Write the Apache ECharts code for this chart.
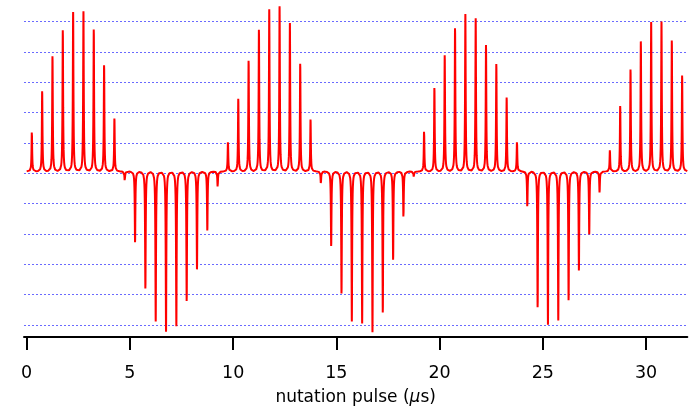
<!DOCTYPE html>
<html><head><meta charset="utf-8">
<script src="https://cdn.jsdelivr.net/npm/echarts@6/dist/echarts.min.js"></script>
<style>html,body{margin:0;padding:0;background:#fff}#c{width:695px;height:411px}</style>
</head><body><div id="c"></div>
<script>
// x tick labels (nutation pulse, µs)
const xTicks = [0, 5, 10, 15, 20, 25, 30];
// each spectrum occupies one 0.5 µs step of the nutation pulse
const stepWidth = 0.5;
// peak amplitudes (grid units), one per pulse step, in order
const posGroup1 = [1.36, 2.68, 3.85, 4.72, 5.26, 5.28, 4.75, 3.55, 1.77];
const negGroup1 = [-0.33, -2.36, -3.91, -4.94, -5.28, -5.10, -4.33, -3.27, -1.97, -0.52];
const posGroup2 = [1.02, 2.43, 3.70, 4.74, 5.35, 5.45, 4.90, 3.60, 1.74];
const negGroup2 = [-0.40, -2.49, -4.08, -4.94, -5.01, -5.30, -4.71, -2.95, -1.56, -0.18];
const posGroup3 = [1.38, 2.79, 3.89, 4.79, 5.19, 5.05, 4.23, 3.59, 2.47, 1.02];
const negGroup3 = [-1.21, -4.54, -5.05, -4.91, -4.30, -3.31, -2.10, -0.70];
const posGroup4 = [0.71, 2.19, 3.41, 4.35, 4.93, 4.95, 4.38, 3.21];

const peakAmps = [].concat(posGroup1, negGroup1, posGroup2, negGroup2, posGroup3, negGroup3, posGroup4);

// line shape of each spectrum (Lorentzian, narrow) and baseline offset
const halfWidth = 0.017;
const baseline = 0.06;
const offs = [0.002, 0.004, 0.007, 0.01, 0.014, 0.019, 0.025, 0.032, 0.04, 0.05, 0.065, 0.08, 0.1, 0.13, 0.16, 0.2, 0.25];
const sampleOffsets = offs.slice().reverse().map(d => -d).concat([0], offs);

const lineData = [];
peakAmps.forEach((a, k) => {
  const c = stepWidth * k + stepWidth / 2;
  sampleOffsets.forEach(d => {
    const v = baseline + a * halfWidth * halfWidth / (halfWidth * halfWidth + d * d);
    lineData.push([c + d, v]);
  });
});

const chart = echarts.init(document.getElementById('c'), null, {renderer: 'canvas'});
chart.setOption({
  animation: false,
  backgroundColor: '#ffffff',
  grid: {left: 24, right: 7.7, top: 21.7, bottom: 81, containLabel: false},
  xAxis: {
    type: 'value', min: -0.13, max: 32, offset: 12,
    name: '{n|nutation pulse (}{i|μ}{n|s)}', nameLocation: 'middle', nameGap: 52,
    nameTextStyle: {
      fontFamily: 'DejaVu Sans', fontSize: 17, color: '#000',
      rich: {
        n: {fontFamily: 'DejaVu Sans', fontSize: 17, color: '#000'},
        i: {fontFamily: 'DejaVu Sans', fontSize: 17, color: '#000', fontStyle: 'italic'}
      }
    },
    axisLine: {show: true, onZero: false, lineStyle: {color: '#000', width: 2}},
    axisTick: {show: true, length: 13, lineStyle: {color: '#000', width: 2}, customValues: xTicks},
    axisLabel: {show: true, margin: 27, fontFamily: 'DejaVu Sans', fontSize: 17.5, color: '#000', customValues: xTicks},
    splitLine: {show: false}
  },
  yAxis: {
    type: 'value', min: -5, max: 5, interval: 1,
    axisLine: {show: false}, axisTick: {show: false}, axisLabel: {show: false},
    splitLine: {show: true, lineStyle: {color: '#6a6aff', width: 1, type: [2, 2]}}
  },
  series: [{
    type: 'line', data: lineData, showSymbol: false, clip: false,
    lineStyle: {color: '#ff0000', width: 2}, silent: true
  }]
});
</script></body></html>
